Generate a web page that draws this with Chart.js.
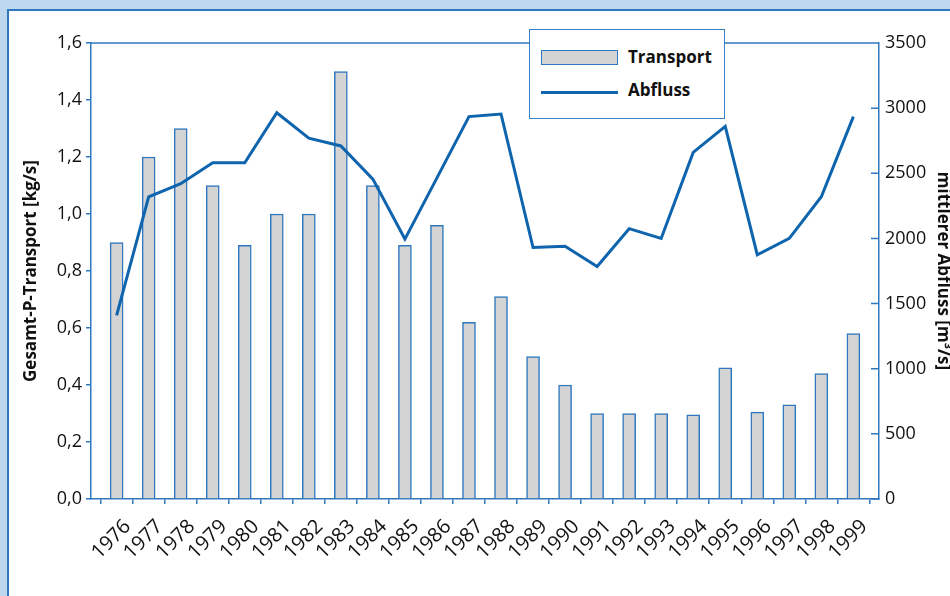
<!DOCTYPE html>
<html>
<head>
<meta charset="utf-8">
<script src="https://cdn.jsdelivr.net/npm/chart.js@4/dist/chart.umd.min.js"></script>
<style>
  html, body { margin: 0; padding: 0; }
  body { width: 950px; height: 596px; background: #bdd7ee; position: relative; overflow: hidden; font-family: "Open Sans", sans-serif; }
  #panel { position: absolute; left: 7px; top: 9px; right: 0; bottom: 0; background: #fff; border-left: 2px solid #2f78c0; border-top: 2px solid #2f78c0; }
  #chart { position: absolute; left: 0; top: 0; }
  #legend { position: absolute; left: 529px; top: 29px; width: 194px; height: 88px; background: #fff; border: 1.5px solid #3a80c6; }
  #legend .row { position: absolute; left: 11px; height: 20px; }
  #legend .bar { position: absolute; left: 0; top: 0; width: 75px; height: 13px; background: #d4d4d4; border: 1.5px solid #2f78c0; }
  #legend .line { position: absolute; left: 0; top: 8px; width: 77px; height: 3px; background: #0f64ae; }
  #legend .txt { position: absolute; left: 87px; top: -5px; font-weight: bold; font-size: 17px; color: #111; white-space: nowrap; }
</style>
</head>
<body>
<div id="panel"></div>
<canvas id="chart" width="950" height="596"></canvas>
<div id="legend">
  <div class="row" style="top:20px"><div class="bar"></div><div class="txt">Transport</div></div>
  <div class="row" style="top:53px"><div class="line"></div><div class="txt">Abfluss</div></div>
</div>
<script>
var years = [1976, 1977, 1978, 1979, 1980, 1981, 1982, 1983, 1984, 1985, 1986, 1987,
             1988, 1989, 1990, 1991, 1992, 1993, 1994, 1995, 1996, 1997, 1998, 1999];
// Gesamt-P-Transport [kg/s]
var transport = [0.90, 1.20, 1.30, 1.10, 0.89, 1.00, 1.00, 1.50, 1.10, 0.89, 0.96, 0.62,
                 0.71, 0.50, 0.40, 0.30, 0.30, 0.30, 0.295, 0.46, 0.305, 0.33, 0.44, 0.58];
// mittlerer Abfluss [m3/s]
var abfluss = [1410, 2320, 2420, 2580, 2580, 2965, 2770, 2710, 2455, 1995, 2465, 2935,
               2955, 1930, 1940, 1785, 2075, 2000, 2660, 2860, 1875, 2000, 2320, 2935];
var leftTicks = [0, 0.2, 0.4, 0.6, 0.8, 1.0, 1.2, 1.4, 1.6];
var rightTicks = [0, 500, 1000, 1500, 2000, 2500, 3000, 3500];

var blue = "#2f78c0";
var tickFont = { family: "Open Sans", size: 18 };
var titleFont = { family: "Open Sans", size: 17, weight: "bold" };

function points(values) {
    return years.map(function (y, i) { return { x: y, y: values[i] }; });
}

// top frame line of the plot + inward tick marks on the right axis
var framePlugin = {
    id: "frame",
    afterDraw: function (chart) {
        var ctx = chart.ctx, a = chart.chartArea, r = chart.scales.y1;
        ctx.save();
        ctx.strokeStyle = blue;
        ctx.lineWidth = 1.5;
        ctx.beginPath();
        ctx.moveTo(a.left, a.top);
        ctx.lineTo(a.right, a.top);
        r.ticks.forEach(function (t) {
            var py = r.getPixelForValue(t.value);
            ctx.moveTo(a.right - 8, py);
            ctx.lineTo(a.right, py);
        });
        ctx.stroke();
        ctx.restore();
    }
};

new Chart(document.getElementById("chart"), {
    data: {
        datasets: [{
            type: "line",
            label: "Abfluss",
            data: points(abfluss),
            yAxisID: "y1",
            borderColor: "#0f64ae",
            borderWidth: 3,
            pointRadius: 0,
            tension: 0,
            order: 0
        }, {
            type: "bar",
            label: "Transport",
            data: points(transport),
            yAxisID: "y",
            backgroundColor: "#d4d4d4",
            borderColor: blue,
            borderWidth: 1.5,
            barThickness: 13,
            order: 1
        }]
    },
    plugins: [framePlugin],
    options: {
        responsive: false,
        animation: false,
        layout: { padding: { left: 18, right: 0, top: 43, bottom: 0 } },
        plugins: { legend: { display: false }, tooltip: { enabled: false } },
        scales: {
            x: {
                type: "linear",
                offset: false,
                min: 1975.2,
                max: 1999.8,
                afterFit: function (s) { s.height = 97; },
                border: { color: blue, width: 1.5 },
                grid: { drawOnChartArea: false, offset: true, color: blue, lineWidth: 1.5, tickLength: 5 },
                ticks: {
                    stepSize: 1,
                    includeBounds: false,
                    autoSkip: false,
                    maxRotation: 45,
                    minRotation: 45,
                    labelOffset: 11,
                    padding: 11,
                    color: "#111",
                    font: { family: "Open Sans", size: 20 },
                    callback: function (v) { return String(v); }
                }
            },
            y: {
                position: "left",
                min: 0,
                max: 1.6,
                afterFit: function (s) { s.width = 73; },
                afterBuildTicks: function (s) { s.ticks = leftTicks.map(function (v) { return { value: v }; }); },
                border: { color: blue, width: 1.5 },
                grid: { drawOnChartArea: false, color: blue, lineWidth: 1.5, tickLength: 5 },
                ticks: {
                    padding: 4,
                    color: "#111",
                    font: tickFont,
                    callback: function (v) { return v.toFixed(1).replace(".", ","); }
                },
                title: { display: true, text: "Gesamt-P-Transport [kg/s]", color: "#111", font: titleFont, padding: { top: 3, bottom: 0 } }
            },
            y1: {
                position: "right",
                min: 0,
                max: 3500,
                afterFit: function (s) { s.width = 71; },
                afterBuildTicks: function (s) { s.ticks = rightTicks.map(function (v) { return { value: v }; }); },
                border: { color: blue, width: 1.5 },
                grid: { drawOnChartArea: false, drawTicks: false },
                ticks: {
                    padding: 6,
                    color: "#111",
                    font: tickFont,
                    callback: function (v) { return String(v); }
                },
                title: { display: true, text: "mittlerer Abfluss [m³/s]", color: "#111", font: titleFont, padding: { top: -3, bottom: 0 } }
            }
        }
    }
});
</script>
</body>
</html>
